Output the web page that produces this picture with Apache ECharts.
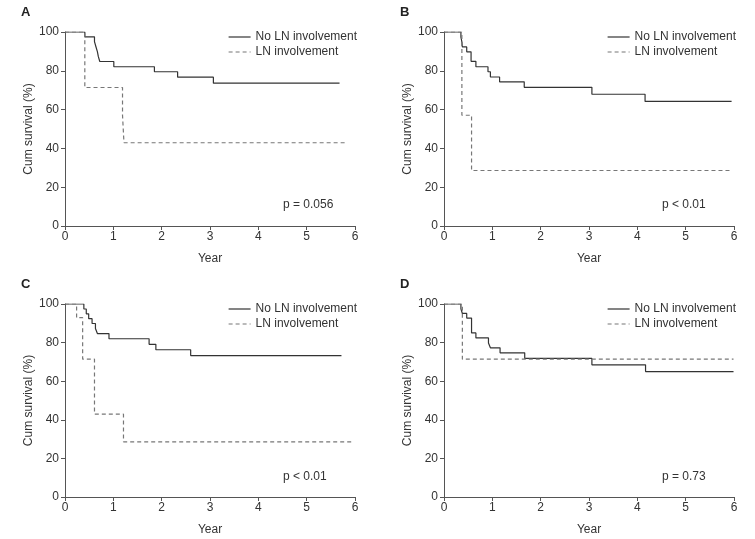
<!DOCTYPE html>
<html><head><meta charset="utf-8">
<script src="https://cdn.jsdelivr.net/npm/echarts@6/dist/echarts.min.js"></script>
<style>html,body{margin:0;padding:0;background:#fff}#c{width:755px;height:539px}</style>
</head><body><div id="c"></div>
<script>
// Panel A
const aNoTime = [0, 0.41, 0.61, 0.64, 0.67, 0.69, 0.72, 1.01, 1.85, 2.33, 3.07, 5.68];
const aNoSurv = [100, 97.5, 95.0, 92.4, 89.9, 87.3, 84.8, 82.1, 79.5, 76.7, 73.6, 73.6];
const aLnTime = [0, 0.41, 1.19, 1.22, 5.81];
const aLnSurv = [100, 71.4, 57.1, 42.9, 42.9];
// Panel B
const bNoTime = [0, 0.35, 0.37, 0.38, 0.47, 0.56, 0.66, 0.91, 0.96, 1.15, 1.66, 3.06, 4.16, 5.95];
const bNoSurv = [100, 97.4, 94.9, 92.3, 89.8, 84.9, 82.1, 79.5, 76.8, 74.3, 71.5, 67.9, 64.2, 64.2];
const bLnTime = [0, 0.37, 0.57, 5.92];
const bLnSurv = [100, 57.1, 28.6, 28.6];
// Panel C
const cNoTime = [0, 0.39, 0.44, 0.49, 0.56, 0.63, 0.67, 0.91, 1.74, 1.88, 2.60, 5.72];
const cNoSurv = [100, 97.4, 94.9, 92.4, 89.9, 87.3, 84.7, 82.0, 79.1, 76.3, 73.3, 73.3];
const cLnTime = [0, 0.24, 0.365, 0.61, 1.21, 5.94];
const cLnSurv = [100, 92.9, 71.4, 42.9, 28.6, 28.6];
// Panel D
const dNoTime = [0, 0.35, 0.38, 0.47, 0.57, 0.66, 0.92, 0.96, 1.16, 1.67, 3.06, 4.17, 5.99];
const dNoSurv = [100, 97.5, 95.1, 92.7, 85.0, 82.4, 79.8, 77.3, 74.7, 71.8, 68.5, 65.0, 65.0];
const dLnTime = [0, 0.38, 5.99];
const dLnSurv = [100, 71.4, 71.4];

const panelLetters = ['A', 'B', 'C', 'D'];
const pTexts = ['p = 0.056', 'p < 0.01', 'p < 0.01', 'p = 0.73'];
const seriesNames = ['No LN involvement', 'LN involvement'];
const xTicks = [0, 1, 2, 3, 4, 5, 6];
const yTicks = [0, 20, 40, 60, 80, 100];

const FONT = '"Liberation Sans", Arial, Helvetica, sans-serif';
const zip = (t, s) => t.map((v, i) => [v, s[i]]);
const panels = [
  [zip(aNoTime, aNoSurv), zip(aLnTime, aLnSurv)],
  [zip(bNoTime, bNoSurv), zip(bLnTime, bLnSurv)],
  [zip(cNoTime, cNoSurv), zip(cLnTime, cLnSurv)],
  [zip(dNoTime, dNoSurv), zip(dLnTime, dLnSurv)]
];
const grids = [
  {left: 65, top: 32, width: 290, height: 194},
  {left: 444, top: 32, width: 290, height: 194},
  {left: 65, top: 304, width: 290, height: 193},
  {left: 444, top: 304, width: 290, height: 193}
];
const axisCol = '#555';
const textCol = '#333';
const option = {
  animation: false,
  backgroundColor: '#fff',
  grid: grids,
  xAxis: grids.map((g, i) => ({
    type: 'value', gridIndex: i, min: xTicks[0], max: xTicks[xTicks.length - 1], interval: 1,
    name: 'Year', nameLocation: 'middle', nameGap: 27,
    nameTextStyle: {fontFamily: FONT, fontSize: 12, color: textCol},
    axisLine: {show: true, lineStyle: {color: axisCol, width: 1}},
    axisTick: {show: true, length: 4, lineStyle: {color: axisCol}},
    axisLabel: {fontFamily: FONT, fontSize: 12, color: textCol, margin: 5},
    splitLine: {show: false}
  })),
  yAxis: grids.map((g, i) => ({
    type: 'value', gridIndex: i, min: yTicks[0], max: yTicks[yTicks.length - 1], interval: 20,
    name: 'Cum survival (%)', nameLocation: 'middle', nameGap: 30,
    nameTextStyle: {fontFamily: FONT, fontSize: 12, color: textCol},
    axisLine: {show: true, lineStyle: {color: axisCol, width: 1}},
    axisTick: {show: true, length: 4, lineStyle: {color: axisCol}},
    axisLabel: {fontFamily: FONT, fontSize: 12, color: textCol, margin: 6},
    splitLine: {show: false}
  })),
  legend: grids.map((g, i) => ({
    data: seriesNames,
    orient: 'vertical',
    left: g.left + 158, top: g.top - 6,
    itemWidth: 22, itemHeight: 10, itemGap: 3,
    itemStyle: {opacity: 0},
    lineStyle: {width: 1.2},
    textStyle: {fontFamily: FONT, fontSize: 12, color: textCol},
    selectedMode: false
  })),
  series: [],
  graphic: []
};
panels.forEach((p, i) => {
  option.series.push({
    name: seriesNames[0], type: 'line', step: 'end', xAxisIndex: i, yAxisIndex: i,
    data: p[0], symbol: 'none', lineStyle: {color: '#333', width: 1.2, type: 'solid'},
    itemStyle: {color: '#333'}
  });
  option.series.push({
    name: seriesNames[1], type: 'line', step: 'end', xAxisIndex: i, yAxisIndex: i,
    data: p[1], symbol: 'none', lineStyle: {color: '#777', width: 1.2, type: [4, 3]},
    itemStyle: {color: '#777'}
  });
  const g = grids[i];
  option.graphic.push({
    type: 'text', left: g.left - 44, top: g.top - 26,
    style: {text: panelLetters[i], font: 'bold 13px ' + FONT, fill: '#222'}
  });
  option.graphic.push({
    type: 'text', left: g.left + 218, top: g.top + 167,
    style: {text: pTexts[i], font: '12px ' + FONT, fill: textCol}
  });
});
const chart = echarts.init(document.getElementById('c'), null, {renderer: 'canvas'});
chart.setOption(option);
</script></body></html>
